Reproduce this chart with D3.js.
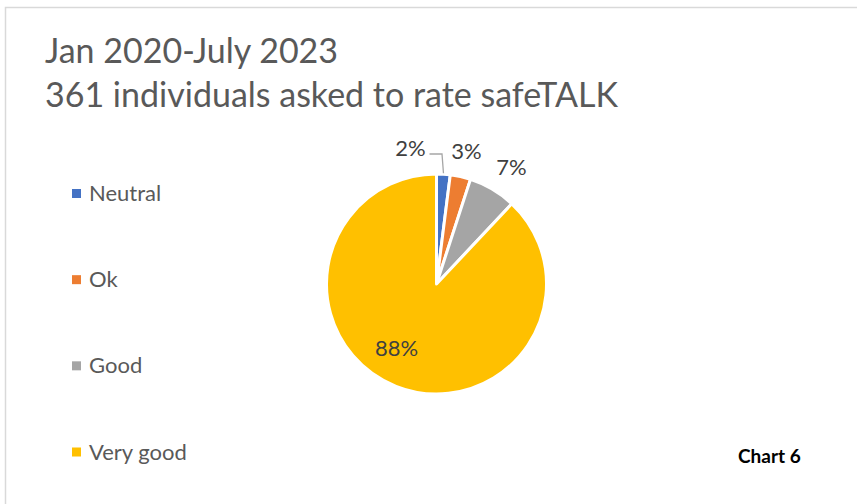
<!DOCTYPE html>
<html>
<head>
<meta charset="utf-8">
<script src="https://cdn.jsdelivr.net/npm/d3@7"></script>
<style>
  body { margin: 0; background: #fff; }
  svg { display: block; font-family: Lato, "Open Sans", sans-serif; }
</style>
</head>
<body>
<svg id="chart" width="857" height="504"></svg>
<script>
// chart data
var titleLines = ["Jan 2020-July 2023", "361 individuals asked to rate safeTALK"];
var categories = ["Neutral", "Ok", "Good", "Very good"];
var percents = [2, 3, 7, 88];
var colors = ["#4472c4", "#ed7d31", "#a5a5a5", "#ffc000"];
var footnote = "Chart 6";

var svg = d3.select("#chart");

// frame
svg.append("rect")
  .attr("x", 5.5).attr("y", 7.5)
  .attr("width", 860).attr("height", 510)
  .attr("fill", "#fff")
  .attr("stroke", "#d9d9d9")
  .attr("stroke-width", 1.5);

// title
svg.selectAll("text.title")
  .data(titleLines)
  .enter()
  .append("text")
  .attr("class", "title")
  .attr("x", 45)
  .attr("y", function(d, i) { return 63 + i * 44; })
  .attr("font-size", 34)
  .attr("fill", "#595959")
  .text(function(d) { return d; });

// legend
var legendY = d3.scalePoint().domain(categories).range([193.5, 452]);
var legend = svg.selectAll("g.legend")
  .data(categories)
  .enter()
  .append("g")
  .attr("class", "legend")
  .attr("transform", function(d) { return "translate(72," + legendY(d) + ")"; });
legend.append("rect")
  .attr("x", 0).attr("y", -4.5)
  .attr("width", 9).attr("height", 9)
  .attr("fill", function(d, i) { return colors[i]; });
legend.append("text")
  .attr("x", 17).attr("y", 7.5)
  .attr("font-size", 22)
  .attr("fill", "#595959")
  .text(function(d) { return d; });

// pie
var cx = 436.5, cy = 284, r = 110;
var pie = d3.pie().sort(null).value(function(d) { return d; });
var arcs = pie(percents);
var arc = d3.arc().innerRadius(0).outerRadius(r);
var g = svg.append("g").attr("transform", "translate(" + cx + "," + cy + ")");

g.selectAll("path")
  .data(arcs)
  .enter()
  .append("path")
  .attr("d", arc)
  .attr("fill", function(d, i) { return colors[i]; })
  .attr("stroke", "#fff")
  .attr("stroke-width", 3)
  .attr("stroke-linejoin", "round");

// data labels
var labelPos = [[-26, -128], [30, -125], [75, -109], [-40, 72]];
g.selectAll("text.lbl")
  .data(arcs)
  .enter()
  .append("text")
  .attr("class", "lbl")
  .attr("x", function(d, i) { return labelPos[i][0]; })
  .attr("y", function(d, i) { return labelPos[i][1]; })
  .attr("text-anchor", "middle")
  .attr("font-size", 22)
  .attr("fill", "#404040")
  .text(function(d) { return d.data + "%"; });

// leader line for the small slice
var mid = (arcs[0].startAngle + arcs[0].endAngle) / 2;
var tip = [Math.sin(mid) * (r + 1), -Math.cos(mid) * (r + 1)];
g.append("polyline")
  .attr("points", [[-7, -130], [5.5, -130], tip].map(function(p) { return p.join(","); }).join(" "))
  .attr("fill", "none")
  .attr("stroke", "#a6a6a6")
  .attr("stroke-width", 1.3);

// footnote
svg.append("text")
  .attr("x", 738)
  .attr("y", 463)
  .attr("font-size", 19)
  .attr("font-weight", "bold")
  .attr("fill", "#000")
  .text(footnote);
</script>
</body>
</html>
